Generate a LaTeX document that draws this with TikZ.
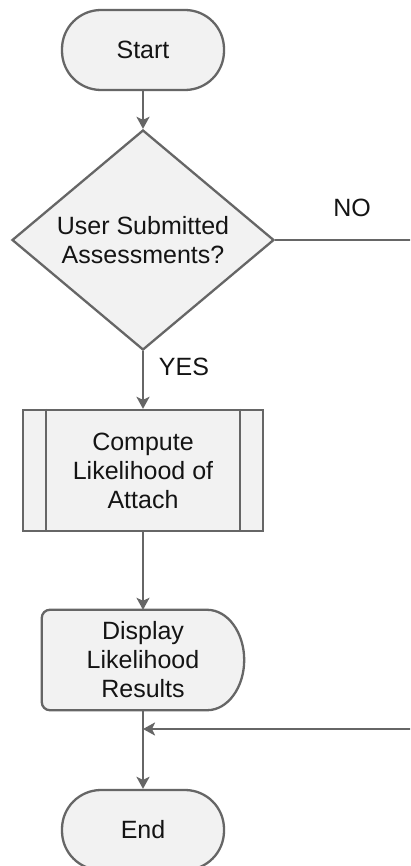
\documentclass[tikz,border=0pt]{standalone}
\usepackage{fontspec}
\setmainfont{Liberation Sans}
\usetikzlibrary{shapes.geometric,arrows.meta,calc}
\definecolor{lc}{HTML}{666666}
\definecolor{fc}{HTML}{F2F2F2}
\definecolor{tc}{HTML}{141414}
\begin{document}
\begin{tikzpicture}[x=1pt,y=-1pt,
  font=\fontsize{25}{29}\selectfont, text=tc,
  base/.style={draw=lc, fill=fc, line width=2.3pt, align=center, inner sep=0pt},
  term/.style={base, rectangle, rounded corners=39pt, minimum width=162pt, minimum height=80pt},
  decision/.style={base, diamond, minimum width=262pt, minimum height=220pt, aspect=1.19},
  proc/.style={base, rectangle, minimum width=240pt, minimum height=121pt},
  dispbox/.style={rectangle, align=center, inner sep=0pt, minimum width=202pt, minimum height=100pt},
  outline/.style={draw=lc, fill=fc, line width=2.3pt},
  conn/.style={draw=lc, line width=2.3pt, -{Stealth[length=12pt,width=13pt,inset=3pt]}},
  plain/.style={draw=lc, line width=2.3pt},
  lbl/.style={inner sep=0pt}
]
\useasboundingbox (0,0) rectangle (410,866);
\clip (0,0) rectangle (410,866);
\fill[white] (0,0) rectangle (410,866);

\node[term] (s) at (143,50) {Start};
\node[decision] (q) at (143,240) {User Submitted\\Assessments?};
\node[proc] (p) at (143,470.5) {Compute\\Likelihood of\\Attach};
\draw[plain] ($(p.north west)+(24,0)$) -- ($(p.south west)+(24,0)$);
\draw[plain] ($(p.north east)+(-24,0)$) -- ($(p.south east)+(-24,0)$);

\node[dispbox] (d) at (143,660) {};
\draw[outline] ($(d.north east)+(-37,0)$) [rounded corners=8pt] -- (d.north west) -- (d.south west) [sharp corners] -- ($(d.south east)+(-37,0)$)
  .. controls ($(d.south east)+(-16.6,0)$) and ($(d.east)+(0,27.6)$) .. (d.east)
  .. controls ($(d.east)+(0,-27.6)$) and ($(d.north east)+(-16.6,0)$) .. ($(d.north east)+(-37,0)$) -- cycle;
\node[dispbox] (dt) at (d.center) {Display\\Likelihood\\Results};

\node[term] (e) at (143,830) {End};

\node[lbl] (no) at (352,208) {NO};
\node[lbl] (yes) at (184,367) {YES};

\coordinate (r1) at ($(q.east)+(170,0)$);
\coordinate (r2) at ($(r1)+(0,489)$);
\coordinate (j) at (e.north |- r2);

\draw[conn] (s) -- (q);
\draw[conn] (q) -- (p);
\draw[conn] (p) -- (d);
\draw[conn] (d) -- (e);
\draw[conn] (q.east) -- (r1) -- (r2) -- (j);
\end{tikzpicture}
\end{document}
